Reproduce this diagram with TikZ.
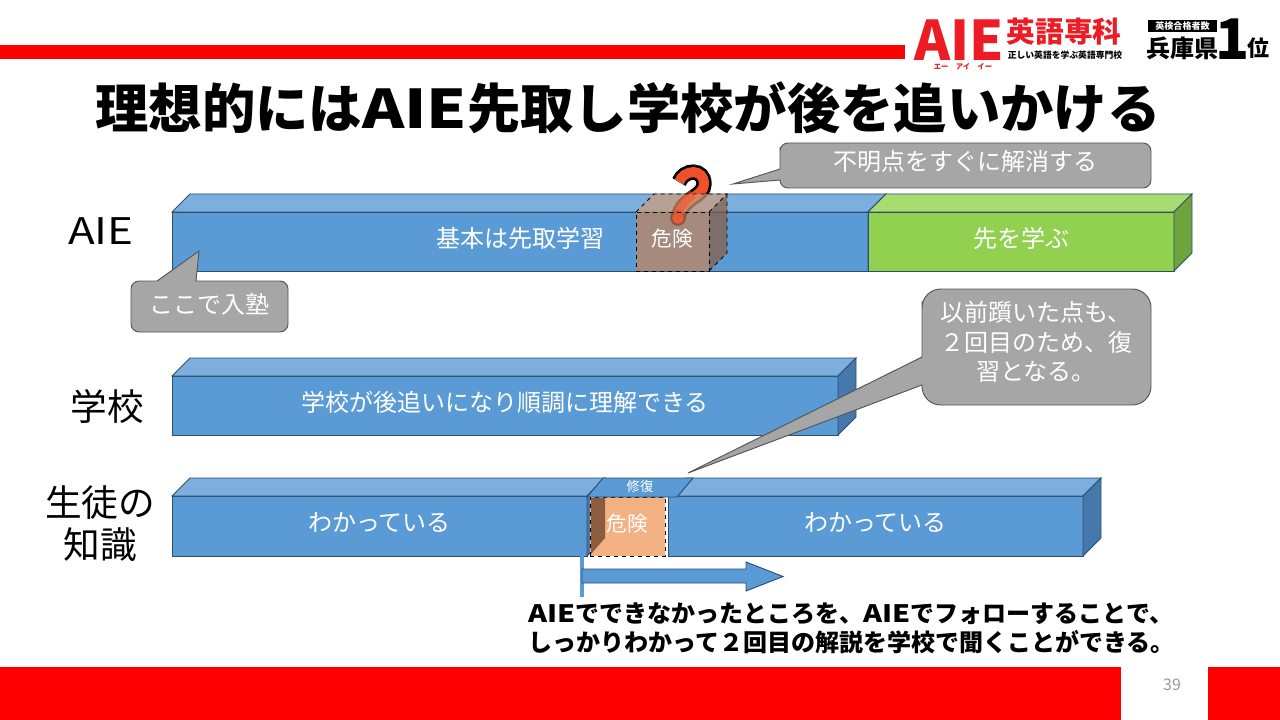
\documentclass[tikz,border=0pt]{standalone}
\usepackage{fontspec}
\setmainfont{Noto Sans CJK JP}
\usepackage{xcolor}
\usetikzlibrary{positioning, arrows.meta}

\definecolor{barBlue}{HTML}{5B9BD5}
\definecolor{barTop}{HTML}{7CAEDE}
\definecolor{barSide}{HTML}{4678AB}
\definecolor{barEdge}{HTML}{2A4F70}
\definecolor{greenFront}{HTML}{92D050}
\definecolor{greenTop}{HTML}{A8DC70}
\definecolor{greenSide}{HTML}{6FA33D}
\definecolor{noteGray}{HTML}{A6A6A6}
\definecolor{noteEdge}{HTML}{555555}
\definecolor{logoRed}{HTML}{ED1C24}
\definecolor{riskBrown}{HTML}{C68358}
\definecolor{riskOrange}{HTML}{F4B183}
\definecolor{quizOrange}{HTML}{F0502A}

% top and side faces of a bar, from its front node
\newcommand{\barfaces}[3]{
    \draw[barline, fill=#2] (#1.north west) -- ++(18,-18) -- ([shift={(18,-18)}]#1.north east) -- (#1.north east) -- cycle;
    \draw[barline, fill=#3] (#1.north east) -- ++(18,-18) -- ([shift={(18,-18)}]#1.south east) -- (#1.south east) -- cycle;
}
% the latin letters of the slide are set wider than the CJK font's
\newcommand{\wideaie}{\scalebox{1.2}[1]{AIE}}
\newcommand{\quizcurve}{(679,182) .. controls (684,169) and (704,168) .. (704,184) .. controls (704,197) and (682,197) .. (678,218)}

\begin{document}
\begin{tikzpicture}[
    x=0.75pt, y=-0.75pt,
    boxsize/.style 2 args={minimum width=#1*0.75pt, minimum height=#2*0.75pt, anchor=north west, inner sep=0pt, outer sep=0pt},
    barline/.style={draw=barEdge, line width=0.7pt},
    barfront/.style={barline, fill=barBlue, text=white, text height=15pt, text depth=6.3pt, font=\fontsize{18pt}{22pt}\selectfont},
    risktext/.style={text=white, text height=13pt, text depth=5pt, font=\fontsize{15.5pt}{18pt}\selectfont},
    rowlabel/.style={align=center, font=\fontsize{27.5pt}{31.5pt}\selectfont},
    notebox/.style={draw=noteEdge, line width=0.7pt, fill=noteGray},
    notetext/.style={text=white, align=center, font=\fontsize{18pt}{22pt}\selectfont},
    riskline/.style={draw=black, line width=0.7pt, dashed},
    logotext/.style={inner sep=0pt, font=\bfseries\fontsize{#1pt}{#1pt}\selectfont}
]
    \useasboundingbox (0,0) rectangle (1280,720);
    \fill[white] (0,0) rectangle (1280,720);

    % header and footer
    \fill[red] (0,45) rectangle (905,59);
    \fill[red] (0,667) rectangle (1121,720);
    \fill[red] (1208,667) rectangle (1280,720);
    \node[text=gray!80, font=\fontsize{12pt}{14pt}\selectfont] (pageNo) at (1172,685) {39};

    % logo
    \node[logotext=41, text=logoRed] (logoAie) at (959,40) {AIE};
    \node[logotext=21.5, text=logoRed] (logoName) at (1064,32) {英語専科};
    \node[logotext=6.6] (logoSub) at (1065,55) {正しい英語を学ぶ英語専門校};
    \node[logotext=5.5, text=logoRed] (logoKana) at (963,67) {エー\quad アイ\quad イー};
    \node[logotext=6.8, fill=black, text=white, minimum width=51.5pt, minimum height=9.5pt] (rankTag) at (1182.5,26) {英検合格者数};
    \node[logotext=18] (rankPref) at (1182.5,48) {兵庫県};
    \node[logotext=42] (rankNum) at (1233,39) {1};
    \node[logotext=16.5] (rankPos) at (1258,48) {位};

    \node[font=\bfseries\fontsize{40pt}{44pt}\selectfont] (title) at (628,108) {理想的には\wideaie 先取し学校が後を追いかける};

    % row labels
    \node[rowlabel] (labelAie) at (101,231) {\wideaie};
    \node[rowlabel] (labelSchool) at (107,407) {学校};
    \node[rowlabel] (labelStudent) at (100,524) {生徒の\\知識};

    % AIE row
    \node[barfront, boxsize={696}{59}] (aieBar) at (172,212) {基本は先取学習};
    \barfaces{aieBar}{barTop}{barSide}
    \node[barfront, boxsize={306}{59}, fill=greenFront] (aheadBar) at (868,212) {先を学ぶ};
    \barfaces{aheadBar}{greenTop}{greenSide}

    % question mark, under the risk cube
    \draw[black, line width=11.5pt] \quizcurve;
    \draw[quizOrange, line width=7.5pt] \quizcurve;
    \node[circle, fill=quizOrange, draw=black, line width=1.8pt, minimum size=10pt, inner sep=0pt] (quizDot) at (678,218) {};

    % risk cube on the AIE bar
    \fill[riskBrown, fill opacity=0.7] (636,212) rectangle (709,271);
    \fill[riskBrown!80!white, fill opacity=0.7] (636,212) -- (654,194) -- (727,194) -- (709,212) -- cycle;
    \fill[riskBrown!70!black, fill opacity=0.7] (709,212) -- (727,194) -- (727,253) -- (709,271) -- cycle;
    \draw[quizOrange, line width=7pt, opacity=0.55] (693,194) .. controls (685,200) and (679,206) .. (678,218);
    \fill[quizOrange, opacity=0.55] (678,218) circle (6);
    \node[riskline, boxsize={73}{59}, risktext] (aieRisk) at (636,212) {危険};
    \draw[riskline] (aieRisk.north west) -- ++(18,-18) -- ++(73,0) -- (aieRisk.north east);
    \draw[riskline] ([shift={(18,-18)}]aieRisk.north east) -- ++(0,59) -- (aieRisk.south east);

    % school row
    \node[barfront, boxsize={666}{59}] (schoolBar) at (172,376) {学校が後追いになり順調に理解できる};
    \barfaces{schoolBar}{barTop}{barSide}

    % student row
    \node[barfront, boxsize={415}{60}] (knowLeft) at (172,496) {わかっている};
    \barfaces{knowLeft}{barTop}{barSide}
    \node[barfront, boxsize={415}{60}] (knowRight) at (668,496) {わかっている};
    \barfaces{knowRight}{barTop}{barSide}

    % repaired gap
    \node[riskline, boxsize={75}{59}, fill=riskOrange, risktext] (fixRisk) at (590,497) {危険};
    \fill[riskBrown!70!black] (591,498) -- (605,498) -- (605,538) -- (591,554) -- cycle;
    \draw[barline, fill=barBlue] (587,497) -- (603,478) -- (693,478) -- (677,497) -- cycle;
    \node[text=white, font=\fontsize{10pt}{12pt}\selectfont] (fixLabel) at (640,486) {修復};

    % progress arrow
    \draw[barBlue, line width=3pt] (582,556) -- (582,597);
    \draw[barline, fill=barBlue] (582,569) -- (746,569) -- (746,562) -- (783,576.5) -- (746,591) -- (746,583) -- (582,583) -- cycle;

    % callouts
    \draw[notebox, rounded corners=6pt] (780,155) [sharp corners] -- (780,169) -- (733,184) -- (780,180) [rounded corners=6pt] -- (780,188) -- (1151,188) -- (1151,143) -- (780,143) -- cycle;
    \node[notetext] (noteQuick) at (965,161) {不明点をすぐに解消する};

    \draw[notebox, rounded corners=14pt] (922,320) [sharp corners] -- (922,357) -- (688,473) -- (922,385) [rounded corners=14pt] -- (922,405) -- (1151,405) -- (1151,289) -- (922,289) -- cycle;
    \node[notetext] (noteSecond) at (1036,342) {以前躓いた点も、\\２回目のため、復\\習となる。};

    \draw[notebox, rounded corners=6pt] (131,300) -- (131,281) [sharp corners] -- (157,281) -- (199,251) -- (196,281) [rounded corners=6pt] -- (288,281) -- (288,332) -- (131,332) -- cycle;
    \node[notetext] (noteJoin) at (209,304) {ここで入塾};

    % bottom text
    \node[anchor=north west, inner sep=0pt, align=left, font=\bfseries\fontsize{18pt}{22pt}\selectfont] (summary) at (528,602) {\wideaie でできなかったところを、\wideaie でフォローすることで、\\しっかりわかって２回目の解説を学校で聞くことができる。};
\end{tikzpicture}
\end{document}
